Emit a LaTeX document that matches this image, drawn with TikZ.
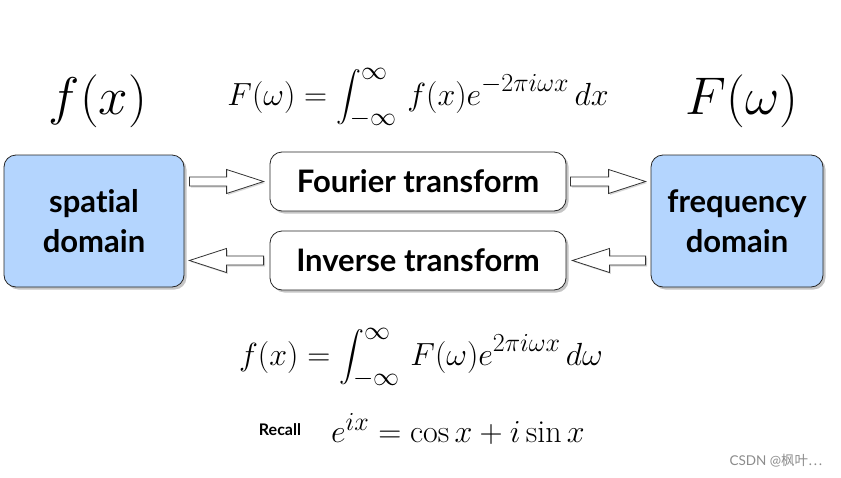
\RequirePackage{fix-cm}
\documentclass[tikz,border=0pt]{standalone}
\usepackage{exscale}
\usepackage{fontspec}
\setsansfont{Lato}[Ligatures={NoCommon}]
\newfontfamily\cjk{Noto Sans CJK SC}
\usetikzlibrary{shadows,calc}
\DeclareMathSizes{32}{32}{26}{20}
\definecolor{boxblue}{RGB}{180,213,254}
\newcommand\blockarr[2]{%
  \draw[barrow] let \p1=(#1), \p2=(#2), \n1={ifthenelse(\x2>\x1,1,-1)} in
    (\x1,\y1+4.5pt) -- (\x2-\n1*37pt,\y1+4.5pt) -- (\x2-\n1*37pt,\y1+12pt) -- (\x2,\y1)
    -- (\x2-\n1*37pt,\y1-12pt) -- (\x2-\n1*37pt,\y1-4.5pt) -- (\x1,\y1-4.5pt) -- cycle;}
\begin{document}
\begin{tikzpicture}[x=1pt,y=-1pt,
  domainbox/.style={draw=black!85, line width=0.8pt, rounded corners=12pt, fill=boxblue,
    align=center, inner sep=0pt, font=\sffamily\bfseries\fontsize{31}{40}\selectfont,
    drop shadow={shadow xshift=2.5pt,shadow yshift=-2.5pt,opacity=0.45}},
  tbox/.style={draw=black!85, line width=0.8pt, rounded corners=12pt, fill=white,
    minimum width=296pt, minimum height=59pt, inner sep=0pt,
    font=\sffamily\bfseries\fontsize{31}{36}\selectfont,
    drop shadow={shadow xshift=2.5pt,shadow yshift=-2.5pt,opacity=0.45}},
  barrow/.style={draw=black!80, fill=white, line width=0.8pt, line join=miter,
    drop shadow={shadow xshift=1.5pt,shadow yshift=-1.5pt,opacity=0.3}},
  mathlbl/.style={inner sep=0pt, anchor=base}
]
\fill[white] (0,0) rectangle (841,477);
\useasboundingbox (0,0) rectangle (841,477);

\node[mathlbl, font=\fontsize{53}{60}\selectfont] (fx) at (98,114) {$f(x)$};
\node[mathlbl, font=\fontsize{53}{60}\selectfont] (Fw) at (742,114) {$F(\omega)$};
\node[mathlbl, font=\fontsize{32}{36}\selectfont] (fwd) at (418,105)
  {$\displaystyle F(\omega)=\int_{-\infty}^{\infty}\, f(x)e^{-2\pi i\omega x}\,dx$};

\node[domainbox, minimum width=180pt, minimum height=132pt] (sp) at (94,221) {spat\kern0pt ial\\domain};
\node[domainbox, minimum width=172pt, minimum height=132pt] (fr) at (737,221) {frequency\\domain};
\node[tbox] (ft) at (418,181.5) {Fourier transform};
\node[tbox] (it) at (418,260.5) {Inverse transform};

\coordinate (a1s) at ($(sp.east |- ft.west)+(5,0)$);
\coordinate (a1e) at ($(ft.west)+(-6,0)$);
\coordinate (a2s) at ($(ft.east)+(4,0)$);
\coordinate (a2e) at ($(fr.west |- ft.east)+(-5,0)$);
\coordinate (a3s) at ($(it.west)+(-6,0)$);
\coordinate (a3e) at ($(sp.east |- it.west)+(5,0)$);
\coordinate (a4s) at ($(fr.west |- it.east)+(-5,0)$);
\coordinate (a4e) at ($(it.east)+(6,0)$);
\blockarr{a1s}{a1e}
\blockarr{a2s}{a2e}
\blockarr{a3s}{a3e}
\blockarr{a4s}{a4e}

\node[mathlbl, font=\fontsize{32}{36}\selectfont] (inv) at (421,365)
  {$\displaystyle f(x)=\int_{-\infty}^{\infty}\, F(\omega)e^{2\pi i\omega x}\,d\omega$};
\node[inner sep=0pt, anchor=base, font=\sffamily\bfseries\fontsize{16}{19}\selectfont] (rc) at (280,435) {Recall};
\node[mathlbl, font=\fontsize{32}{36}\selectfont] (eu) at (458,442) {$e^{ix}=\cos x+i\sin x$};
\node[inner sep=0pt, text=black!45, font=\fontsize{13.5}{16}\selectfont] (wm) at (776,461)
  {\sffamily CSDN @\cjk 枫叶…};
\end{tikzpicture}
\end{document}
